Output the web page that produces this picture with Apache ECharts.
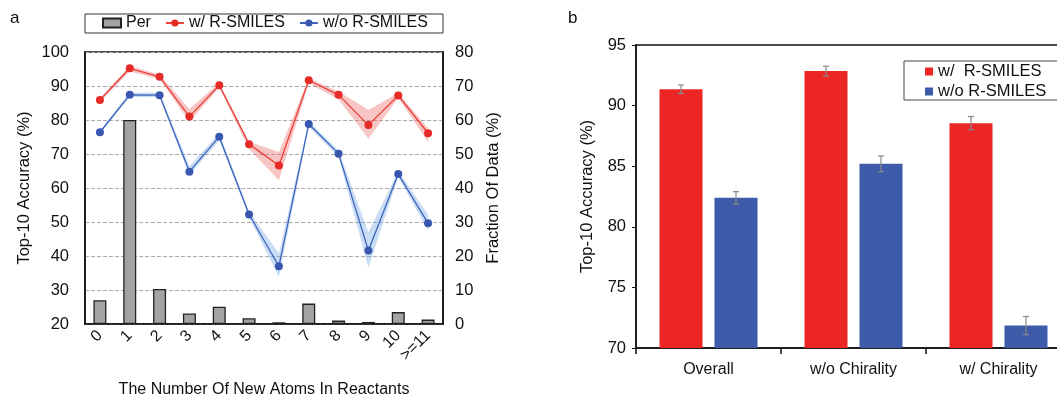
<!DOCTYPE html>
<html><head><meta charset="utf-8">
<script src="https://cdn.jsdelivr.net/npm/echarts@6/dist/echarts.min.js"></script>
<style>html,body{margin:0;padding:0;background:#fff}#c{width:1057px;height:400px}</style>
</head><body><div id="c"></div>
<script>
// ---- Panel a data ----
const atomCategories = ['0','1','2','3','4','5','6','7','8','9','10','>=11'];
const perData   = [7.0, 60.0, 10.3, 3.1, 5.1, 1.7, 0.5, 6.0, 1.0, 0.6, 3.5, 1.3];
const withR     = [85.9, 95.2, 92.7, 81.0, 90.2, 72.9, 66.6, 91.7, 87.4, 78.5, 87.2, 76.1];
const withRLow  = [85.4, 94.3, 92.0, 79.5, 89.5, 71.5, 62.3, 90.8, 86.0, 74.5, 86.5, 73.5];
const withRHigh = [86.4, 95.9, 93.4, 83.2, 90.9, 73.6, 70.6, 92.3, 88.4, 83.0, 87.9, 77.6];
const withoutR     = [76.4, 87.4, 87.3, 64.8, 75.1, 52.2, 37.0, 78.8, 70.1, 41.6, 64.1, 49.6];
const withoutRLow  = [75.9, 86.8, 86.7, 63.8, 74.0, 51.4, 33.8, 78.0, 69.1, 36.5, 63.3, 47.4];
const withoutRHigh = [76.9, 88.1, 88.0, 66.4, 76.1, 53.1, 40.7, 79.6, 71.0, 47.0, 65.0, 52.1];
// ---- Panel b data ----
const groupCategories = ['Overall', 'w/o Chirality', 'w/ Chirality'];
const groupWithR      = [91.35, 92.85, 88.55];
const groupWithRErr   = [0.35, 0.4, 0.55];
const groupWithoutR   = [82.4, 85.2, 71.85];
const groupWithoutRErr= [0.5, 0.65, 0.75];

const FONT = 'Liberation Sans, Arial, Helvetica, sans-serif';
const diff = (hi, lo) => hi.map((v, i) => +(v - lo[i]).toFixed(3));

const BAR_W = 43, BAR_GAP = 12;
function errRender(sign) {
  return function (params, api) {
    const idx = api.value(0), v = api.value(1), e = api.value(2);
    const hi = api.coord([idx, v + e]), lo = api.coord([idx, v - e]);
    const x = hi[0] + sign * (BAR_W + BAR_GAP) / 2;
    const st = { stroke: '#8a8a8a', lineWidth: 1.2 };
    return { type: 'group', children: [
      { type: 'line', shape: { x1: x, y1: hi[1], x2: x, y2: lo[1] }, style: st },
      { type: 'line', shape: { x1: x - 3, y1: hi[1], x2: x + 3, y2: hi[1] }, style: st },
      { type: 'line', shape: { x1: x - 3, y1: lo[1], x2: x + 3, y2: lo[1] }, style: st }
    ]};
  };
}

const chart = echarts.init(document.getElementById('c'));
const txt = { fontFamily: FONT, color: '#111' };
chart.setOption({
  animation: false,
  textStyle: { fontFamily: FONT },
  graphic: [
    { type: 'text', left: 10, top: 10, style: { text: 'a', font: '17px ' + FONT, fill: '#111' } },
    { type: 'text', left: 568, top: 10, style: { text: 'b', font: '17px ' + FONT, fill: '#111' } },
    { type: 'rect', shape: { x: 85, y: 14, width: 358, height: 19 }, style: { fill: 'none', stroke: '#333', lineWidth: 1 } },
    { type: 'rect', shape: { x: 904, y: 61, width: 160, height: 39 }, style: { fill: 'none', stroke: '#444', lineWidth: 1 } }
  ],
  legend: [
    { left: 102, top: 15, itemWidth: 18, itemHeight: 9, itemGap: 14, padding: 0,
      textStyle: { fontFamily: FONT, fontSize: 16, color: '#111' },
      data: [{ name: 'Per', icon: 'rect' }, { name: 'w/ R-SMILES' }, { name: 'w/o R-SMILES' }] },
    { left: 925, top: 63, orient: 'vertical', itemWidth: 8, itemHeight: 8, itemGap: 3, padding: 0,
      icon: 'rect', textStyle: { fontFamily: FONT, fontSize: 16.5, color: '#111' },
      data: ['w/  R-SMILES', 'w/o R-SMILES '] }
  ],
  grid: [
    { left: 85, top: 52, width: 358, height: 272, show: true, borderColor: '#111', borderWidth: 1.5,
      backgroundColor: 'transparent', outerBoundsMode: 'none', containLabel: false },
    { left: 636, top: 45, width: 435, height: 303, show: true, borderColor: '#111', borderWidth: 1.5,
      backgroundColor: 'transparent', outerBoundsMode: 'none', containLabel: false }
  ],
  xAxis: [
    { type: 'category', gridIndex: 0, data: atomCategories, boundaryGap: true,
      axisLine: { lineStyle: { color: '#111', width: 1.5 } }, axisTick: { show: false },
      axisLabel: { ...txt, fontSize: 16, rotate: 45, margin: 9, interval: 0 },
      name: 'The Number Of New Atoms In Reactants', nameLocation: 'middle', nameGap: 58,
      nameTextStyle: { ...txt, fontSize: 16 } },
    { type: 'category', gridIndex: 1, data: groupCategories, boundaryGap: true,
      axisLine: { lineStyle: { color: '#111', width: 1.5 } },
      axisTick: { show: true, length: 6, lineStyle: { color: '#111', width: 1.5 } },
      axisLabel: { ...txt, fontSize: 16, margin: 14 } }
  ],
  yAxis: [
    { type: 'value', gridIndex: 0, min: 20, max: 100, interval: 10, position: 'left',
      axisLine: { show: true, lineStyle: { color: '#111', width: 1.5 } }, axisTick: { show: false },
      axisLabel: { ...txt, fontSize: 16.5, margin: 16 },
      splitLine: { show: true, lineStyle: { color: '#aaa', type: 'dashed', width: 1 } },
      name: 'Top-10 Accuracy (%)', nameLocation: 'middle', nameGap: 52, nameRotate: 90,
      nameTextStyle: { ...txt, fontSize: 16.5 } },
    { type: 'value', gridIndex: 0, min: 0, max: 80, interval: 10, position: 'right',
      axisLine: { show: true, lineStyle: { color: '#111', width: 1.5 } }, axisTick: { show: false },
      axisLabel: { ...txt, fontSize: 16.5, margin: 12 }, splitLine: { show: false },
      name: 'Fraction Of Data (%)', nameLocation: 'middle', nameGap: 42, nameRotate: 90,
      nameTextStyle: { ...txt, fontSize: 16.5 } },
    { type: 'value', gridIndex: 1, min: 70, max: 95, interval: 5,
      axisLine: { show: true, lineStyle: { color: '#111', width: 1.5 } },
      axisTick: { show: true, length: 4, lineStyle: { color: '#111' } },
      axisLabel: { ...txt, fontSize: 16.5, margin: 10 }, splitLine: { show: false },
      name: 'Top-10 Accuracy (%)', nameLocation: 'middle', nameGap: 40, nameRotate: 90,
      nameTextStyle: { ...txt, fontSize: 16.5 } }
  ],
  series: [
    { name: 'Per', type: 'bar', xAxisIndex: 0, yAxisIndex: 1, data: perData, barWidth: 13,
      itemStyle: { color: '#a3a3a6', borderColor: '#222', borderWidth: 1.3 } },
    { name: 'rLow', type: 'line', xAxisIndex: 0, yAxisIndex: 0, stack: 'rb', data: withRLow,
      symbol: 'none', lineStyle: { opacity: 0 }, silent: true },
    { name: 'rBand', type: 'line', xAxisIndex: 0, yAxisIndex: 0, stack: 'rb', data: diff(withRHigh, withRLow),
      symbol: 'none', lineStyle: { opacity: 0 }, areaStyle: { color: 'rgba(236,90,90,0.5)' }, silent: true },
    { name: 'bLow', type: 'line', xAxisIndex: 0, yAxisIndex: 0, stack: 'bb', data: withoutRLow,
      symbol: 'none', lineStyle: { opacity: 0 }, silent: true },
    { name: 'bBand', type: 'line', xAxisIndex: 0, yAxisIndex: 0, stack: 'bb', data: diff(withoutRHigh, withoutRLow),
      symbol: 'none', lineStyle: { opacity: 0 }, areaStyle: { color: 'rgba(100,160,225,0.5)' }, silent: true },
    { name: 'w/ R-SMILES', type: 'line', xAxisIndex: 0, yAxisIndex: 0, data: withR,
      symbol: 'circle', symbolSize: 8, color: '#e62a26', lineStyle: { width: 1.3, color: '#e8403a' },
      itemStyle: { color: '#e62a26' } },
    { name: 'w/o R-SMILES', type: 'line', xAxisIndex: 0, yAxisIndex: 0, data: withoutR,
      symbol: 'circle', symbolSize: 8, color: '#3a57b0', lineStyle: { width: 1.3, color: '#3e64bd' },
      itemStyle: { color: '#3a57b0' } },
    { name: 'w/  R-SMILES', type: 'bar', xAxisIndex: 1, yAxisIndex: 2, data: groupWithR,
      barWidth: BAR_W, barGap: (BAR_GAP / BAR_W * 100).toFixed(1) + '%', itemStyle: { color: '#ec2525' } },
    { name: 'w/o R-SMILES ', type: 'bar', xAxisIndex: 1, yAxisIndex: 2, data: groupWithoutR,
      barWidth: BAR_W, itemStyle: { color: '#3d5ba8' } },
    { type: 'custom', xAxisIndex: 1, yAxisIndex: 2, renderItem: errRender(-1), z: 5,
      data: groupWithR.map((v, i) => [i, v, groupWithRErr[i]]) },
    { type: 'custom', xAxisIndex: 1, yAxisIndex: 2, renderItem: errRender(1), z: 5,
      data: groupWithoutR.map((v, i) => [i, v, groupWithoutRErr[i]]) }
  ]
});
</script></body></html>
